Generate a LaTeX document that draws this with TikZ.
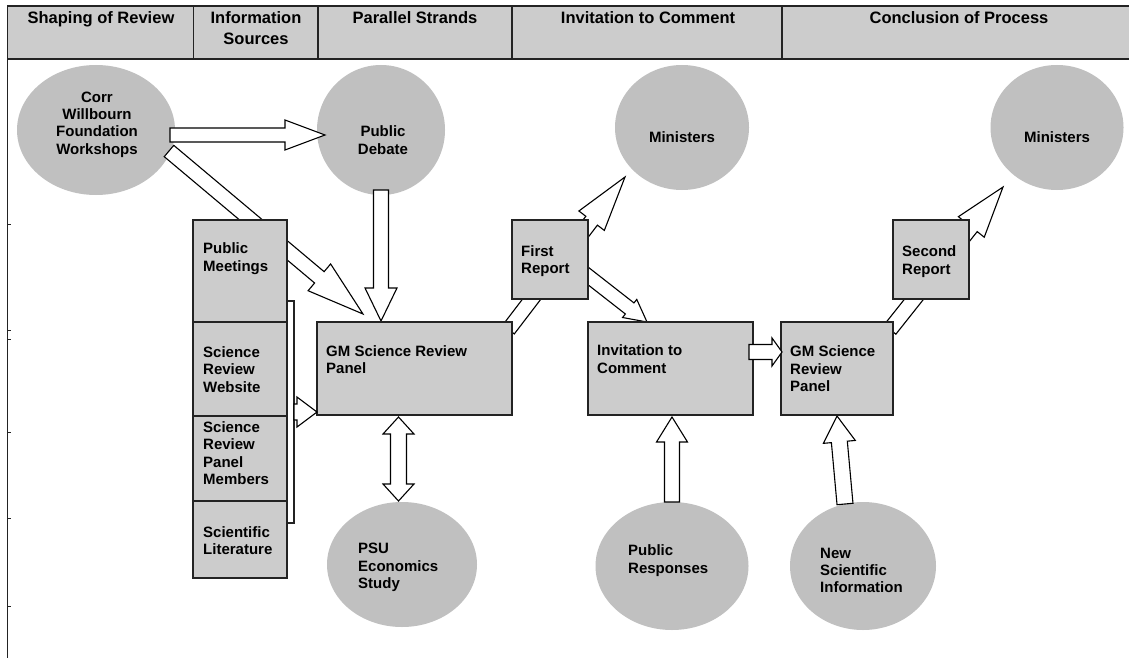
\documentclass[tikz,border=0pt]{standalone}
\usepackage{fontspec}
\setmainfont{Liberation Sans}
\usetikzlibrary{calc,shapes.geometric}
\definecolor{hdrC}{RGB}{204,204,204}
\definecolor{boxC}{RGB}{204,204,204}
\definecolor{ellC}{RGB}{192,192,192}
\definecolor{lineC}{RGB}{35,35,35}
% block arrow: start, tip, shaft half width, head half width, head length
\newcommand{\BlkArrow}[5]{%
  \coordinate (ba) at (#1);
  \coordinate (bb) at (#2);
  \coordinate (bh) at ($(bb)!#5!(ba)$);
  \filldraw[barrow] ($(ba)!#3!90:(bb)$) -- ($(bh)!#3!90:(bb)$) -- ($(bh)!#4!90:(bb)$) -- (bb)
    -- ($(bh)!#4!-90:(bb)$) -- ($(bh)!#3!-90:(bb)$) -- ($(ba)!#3!-90:(bb)$) -- cycle;
}
% double-headed block arrow
\newcommand{\DblArrow}[5]{%
  \coordinate (da) at (#1);
  \coordinate (db) at (#2);
  \coordinate (dha) at ($(da)!#5!(db)$);
  \coordinate (dhb) at ($(db)!#5!(da)$);
  \filldraw[barrow] (da) -- ($(dha)!#4!90:(db)$) -- ($(dha)!#3!90:(db)$) -- ($(dhb)!#3!-90:(da)$)
    -- ($(dhb)!#4!-90:(da)$) -- (db) -- ($(dhb)!#4!90:(da)$) -- ($(dhb)!#3!90:(da)$)
    -- ($(dha)!#3!-90:(db)$) -- ($(dha)!#4!-90:(db)$) -- cycle;
}
\begin{document}
\begin{tikzpicture}[x=1pt,y=-1pt,
  hdrline/.style={draw=lineC, line width=1.6pt},
  boxst/.style={draw=lineC, line width=1.3pt, fill=boxC, rectangle, anchor=north west, inner sep=0pt, outer sep=0pt},
  boxline/.style={draw=lineC, line width=1.3pt},
  ellst/.style={ellipse, fill=ellC, draw=none, inner sep=0pt, outer sep=0pt},
  barrow/.style={draw=black, fill=white, line width=1.1pt, line join=miter},
  htxt/.style={font=\fontsize{16.5}{20.5}\selectfont\bfseries, align=center, anchor=north, inner sep=0pt, text=black},
  btxt/.style={font=\fontsize{15}{17.4}\selectfont\bfseries, align=left, anchor=west, inner sep=0pt, text=black},
  ctxt/.style={btxt, align=center, anchor=center},
]
\useasboundingbox[fill=white] (0,0) rectangle (1129,658);

% header band
\draw[hdrline, fill=hdrC] (7.5,6) rectangle (1140,59);
\foreach \x in {193.5,318,512,782} \draw[hdrline] (\x,6) -- (\x,59);
\draw[hdrline] (7.5,59) -- (7.5,662);
\foreach \y in {224,330,339,432,518,606} \draw[lineC, line width=1pt] (7.5,\y) -- (10.5,\y);

\node[htxt] (h1) at (101,11.5) {Shaping of Review};
\node[htxt] (h2) at (256,11.5) {Information\\Sources};
\node[htxt] (h3) at (415,11.5) {Parallel Strands};
\node[htxt] (h4) at (648,11.5) {Invitation to Comment};
\node[htxt] (h5) at (959,11.5) {Conclusion of Process};

% ellipses
\node[ellst, minimum width=158pt, minimum height=130pt] (corr) at (96,130) {};
\node[ellst, minimum width=128pt, minimum height=130pt] (pd) at (381,130) {};
\node[ellst, minimum width=134pt, minimum height=125pt] (min1) at (682,127.5) {};
\node[ellst, minimum width=133pt, minimum height=125pt] (min2) at (1057,127.5) {};
\node[ellst, minimum width=150pt, minimum height=125pt] (psu) at (402,564.5) {};
\node[ellst, minimum width=153pt, minimum height=128pt] (pr) at (672,566) {};
\node[ellst, minimum width=146pt, minimum height=128pt] (nsi) at (863,566) {};

% box geometry (drawn later) – coordinates needed by arrows
\path (317,322) coordinate (gm1nw);

% boxes are defined first as invisible paths so that arrows can refer to them
\node[boxst, draw=none, fill=none, minimum width=195pt, minimum height=93pt] (gm1) at (317,322) {};
\node[boxst, draw=none, fill=none, minimum width=76pt, minimum height=79pt] (fr) at (512,220) {};
\node[boxst, draw=none, fill=none, minimum width=165pt, minimum height=93pt] (inv) at (588,322) {};
\node[boxst, draw=none, fill=none, minimum width=112pt, minimum height=93pt] (gm2) at (781,322) {};
\node[boxst, draw=none, fill=none, minimum width=76pt, minimum height=79pt] (sr) at (893,220) {};

% arrows lying beneath the boxes
\BlkArrow{$(corr.east)+(-5,5)$}{$(pd.west)+(8,5)$}{7pt}{15pt}{40pt}
\BlkArrow{$(corr.east)+(-6,21)$}{$(gm1.north west)+(46,-8)$}{7.4pt}{17.5pt}{57pt}
\BlkArrow{$(pd.south)+(0,-5)$}{$(pd.south |- gm1.north)+(0,-1)$}{7.5pt}{16pt}{33pt}
\BlkArrow{$(gm1.north east)+(-3.5,7.5)$}{$(min1.center)+(-57,49.5)$}{7.3pt}{16pt}{55pt}
\BlkArrow{$(fr.center)+(10,-5.5)$}{$(inv.north west)+(59,0)$}{7pt}{11.5pt}{22pt}
\BlkArrow{$(pr.north)$}{$(pr.north |- inv.south)+(0,2)$}{7.5pt}{15.5pt}{25pt}
\BlkArrow{$(nsi.north)+(-18,2)$}{$(gm2.south)+(0,1)$}{8pt}{16pt}{26pt}
\BlkArrow{$(gm2.north east)+(-3,7.5)$}{$(min2.center)+(-54,59.5)$}{7.5pt}{16.5pt}{51pt}
\DblArrow{$(gm1.south)+(-16,2)$}{$(psu.north)+(-3.5,-1)$}{8pt}{15.5pt}{17pt}

% bracket beside the information sources
\draw[boxline] (287,301) -- (294,301) -- (294,523) -- (287,523);
\coordinate (brk) at (294,412);

% boxes
\node[boxst, minimum width=94pt, minimum height=102pt] (pm) at (193,220) {};
\node[boxst, minimum width=94pt, minimum height=94pt] (web) at (193,322) {};
\node[boxst, minimum width=94pt, minimum height=85pt] (spm) at (193,416) {};
\node[boxst, minimum width=94pt, minimum height=77pt] (lit) at (193,501) {};
\draw[boxline, fill=boxC] (gm1.north west) rectangle (gm1.south east);
\draw[boxline, fill=boxC] (fr.north west) rectangle (fr.south east);
\draw[boxline, fill=boxC] (inv.north west) rectangle (inv.south east);
\draw[boxline, fill=boxC] (gm2.north west) rectangle (gm2.south east);
\draw[boxline, fill=boxC] (sr.north west) rectangle (sr.south east);

% arrows drawn over boxes / bracket
\BlkArrow{brk}{$(brk -| gm1.west)$}{8pt}{15pt}{20pt}
\BlkArrow{$(inv.east)+(-4,-16.5)$}{$(gm2.west)+(1,-16.5)$}{7.5pt}{14pt}{10pt}

% texts
\node[ctxt] (corrt) at (97,124.5) {Corr\\Willbourn\\Foundation\\Workshops};
\node[ctxt] (pdt) at (383,140) {Public\\Debate};
\node[ctxt] (min1t) at (682,137) {Ministers};
\node[ctxt] (min2t) at (1057,137) {Ministers};
\node[btxt] (pmt) at (203,258.5) {Public\\Meetings};
\node[btxt] (webt) at (203,369.5) {Science\\Review\\Website};
\node[btxt] (spmt) at (203,453) {Science\\Review\\Panel\\Members};
\node[btxt] (litt) at (203,540.5) {Scientific\\Literature};
\node[btxt] (gm1t) at (326,359.5) {GM Science Review\\Panel};
\node[btxt] (frt) at (521,261) {First\\Report};
\node[btxt] (invt) at (597,359) {Invitation to\\Comment};
\node[btxt] (gm2t) at (790,369) {GM Science\\Review\\Panel};
\node[btxt] (srt) at (902,261.5) {Second\\Report};
\node[btxt] (psut) at (358,567.5) {PSU\\Economics\\Study};
\node[btxt] (prt) at (628,560.5) {Public\\Responses};
\node[btxt] (nsit) at (820,570.5) {New\\Scientific\\Information};
\end{tikzpicture}
\end{document}
